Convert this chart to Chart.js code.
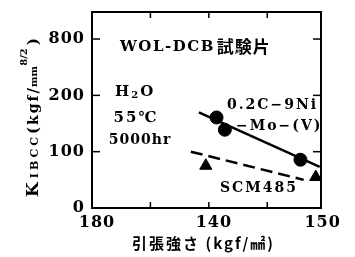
<!DOCTYPE html>
<html><head><meta charset="utf-8">
<script src="https://cdn.jsdelivr.net/npm/chart.js@4.4.1/dist/chart.umd.min.js"></script>
<style>html,body{margin:0;padding:0;background:#fff}#wrap{width:355px;height:257px}</style>
</head><body><div id="wrap"><canvas id="c" width="355" height="257"></canvas></div>
<script>
// ---- data ----
const xTickValues = [130, 140, 150];
const xTickLabels = ["180", "140", "150"];
const xMinorTicks = [135, 145];
const yTickValues = [0, 100, 200, 300];
const yTickLabels = ["0", "100", "200", "800"];
const circleX = [140.66, 141.37, 147.84];
const circleY = [160.7, 139, 85.7];
const triangleX = [139.74, 149.15];
const triangleY = [75, 55];
const solidLineX = [139.15, 149.49];
const solidLineY = [169.6, 73.2];
const dashLineX = [138.46, 148.12];
const dashLineY = [100, 50];
const xLabel = "引張強さ (kgf/㎟)";

const pts = (xs, ys) => xs.map((x, i) => ({x, y: ys[i]}));
const SERIF = '"DejaVu Serif", "Liberation Serif", serif';
const CJK = '"Noto Sans CJK JP", sans-serif';

function txt(ctx, s, x, y, font, ls, align) {
  ctx.save();
  ctx.font = font;
  ctx.letterSpacing = (ls || 0) + 'px';
  ctx.textAlign = align || 'left';
  ctx.textBaseline = 'middle';
  ctx.fillStyle = '#000';
  ctx.fillText(s, x, y);
  const w = ctx.measureText(s).width;
  ctx.restore();
  return w;
}

const deco = {
  id: 'deco',
  afterDraw(chart) {
    const ctx = chart.ctx, xs = chart.scales.x, ys = chart.scales.y, a = chart.chartArea;
    ctx.save();
    ctx.strokeStyle = '#000';
    ctx.lineWidth = 2;
    ctx.strokeRect(a.left, a.top, a.right - a.left, a.bottom - a.top);
    ctx.lineWidth = 1.5;
    // inward ticks
    [130, 135, 140, 145].forEach(v => {
      const px = xs.getPixelForValue(v);
      ctx.beginPath(); ctx.moveTo(px, a.bottom); ctx.lineTo(px, a.bottom - 6); ctx.stroke();
      ctx.beginPath(); ctx.moveTo(px, a.top); ctx.lineTo(px, a.top + 6); ctx.stroke();
    });
    yTickValues.forEach(v => {
      const py = ys.getPixelForValue(v);
      ctx.beginPath(); ctx.moveTo(a.left, py); ctx.lineTo(a.left + 8, py); ctx.stroke();
      ctx.beginPath(); ctx.moveTo(a.right, py); ctx.lineTo(a.right - 8, py); ctx.stroke();
    });
    // tick labels
    const tf = 'bold 16px ' + SERIF;
    yTickValues.forEach((v, i) => {
      txt(ctx, yTickLabels[i], a.left - 7, ys.getPixelForValue(v), tf, 1, 'right');
    });
    xTickValues.forEach((v, i) => {
      let px = xs.getPixelForValue(v);
      txt(ctx, xTickLabels[i], px + (i === 2 ? -3 : 5), a.bottom + 15, tf, 1, 'center');
    });
    // x title
    txt(ctx, xLabel, (a.left + a.right) / 2 - 3, a.bottom + 35, 'bold 15px ' + CJK, 2, 'center');
    // y title (rotated)
    ctx.save();
    ctx.translate(38, 197);
    ctx.rotate(-Math.PI / 2);
    ctx.textBaseline = 'alphabetic';
    ctx.fillStyle = '#000';
    let x = 0;
    const piece = (s, font, ls, dy) => {
      ctx.font = font; ctx.letterSpacing = ls + 'px';
      ctx.fillText(s, x, dy); x += ctx.measureText(s).width;
    };
    piece('K', 'bold 17px ' + SERIF, 4, 0);
    piece('IBCC', 'bold 11px ' + SERIF, 3, 0);
    piece('(', 'bold 15px ' + SERIF, 2, 0);
    piece('kgf', 'bold 14px ' + SERIF, 2, 0);
    piece('/', 'bold 15px ' + SERIF, 1, 0);
    piece('mm', 'bold 10px ' + SERIF, 0, -1);
    piece('8/2', 'bold 10px ' + SERIF, 0, -11);
    x += 3;
    piece(')', 'bold 15px ' + SERIF, 0, 0);
    ctx.restore();
    // annotations
    const af = 'bold 15px ' + SERIF;
    let w = txt(ctx, 'WOL-DCB', 120, 47, af, 1.5);
    txt(ctx, '試験片', 120 + w + 2, 47, 'bold 17px ' + CJK, 1);
    // H2O
    w = txt(ctx, 'H', 115, 92, af, 0);
    let w2 = txt(ctx, '2', 115 + w + 2, 95, 'bold 10px ' + SERIF, 0);
    txt(ctx, 'O', 115 + w + w2 + 4, 92, af, 0);
    txt(ctx, '55℃', 136, 118, 'bold 15px ' + SERIF, 2, 'center');
    txt(ctx, '5000hr', 140, 140, 'bold 14px ' + SERIF, 1, 'center');
    txt(ctx, '0.2C−9Ni', 227, 105, 'bold 14px ' + SERIF, 2);
    txt(ctx, '−Mo−(V)', 236, 126, 'bold 14px ' + SERIF, 2);
    txt(ctx, 'SCM485', 220, 188, 'bold 14px ' + SERIF, 2);
    ctx.restore();
  }
};

new Chart(document.getElementById('c'), {
  type: 'scatter',
  data: {
    datasets: [
      {data: pts(solidLineX, solidLineY), showLine: true, borderColor: '#000', borderWidth: 2.5, pointRadius: 0},
      {data: pts(dashLineX, dashLineY), showLine: true, borderColor: '#000', borderWidth: 2.5, borderDash: [12, 6], pointRadius: 0},
      {data: pts(circleX, circleY), pointStyle: 'circle', pointRadius: 6.5, backgroundColor: '#000', borderColor: '#000'},
      {data: pts(triangleX, triangleY), pointStyle: 'triangle', pointRadius: 7, backgroundColor: '#000', borderColor: '#000'}
    ]
  },
  options: {
    responsive: false, animation: false, devicePixelRatio: 1,
    layout: {padding: {left: 0, right: 34, top: 12, bottom: 0}},
    plugins: {legend: {display: false}, tooltip: {enabled: false}},
    scales: {
      x: {type: 'linear', min: 130, max: 149.6, grid: {display: false}, border: {display: false},
          ticks: {display: false}, afterFit(s) { s.height = 49; }},
      y: {type: 'linear', min: 0, max: 348, grid: {display: false}, border: {display: false},
          ticks: {display: false}, afterFit(s) { s.width = 92; }}
    }
  },
  plugins: [deco]
});
</script></body></html>
